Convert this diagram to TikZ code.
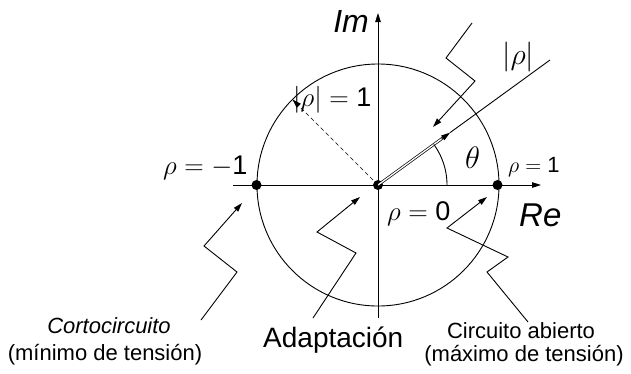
\documentclass[tikz,border=0pt]{standalone}
\usepackage{fix-cm}
\usepackage[no-math]{fontspec}
\newfontfamily\arial{Liberation Sans}
\usetikzlibrary{arrows.meta,calc}
\newcommand\fsz[1]{\fontsize{#1}{#1}\selectfont}
\tikzset{
  ln/.style={line width=0.9pt},
  arr/.style={ln,-{Triangle[length=9pt,width=5.5pt]}},
  dot/.style={circle,fill=black,inner sep=0pt,minimum size=10pt},
  lbl/.style={inner sep=0pt},
}
\begin{document}
\begin{tikzpicture}[x=1pt,y=-1pt]
\useasboundingbox (0,0) rectangle (631,373);
% circle and axes
\coordinate (Oc) at (378,185);
\draw[ln] (Oc) circle[radius=121pt];
\coordinate (xl) at (233,185);
\coordinate (xr) at (541,185);
\coordinate (yb) at (378,318);
\coordinate (yt) at (378,13);
\draw[arr] (xl) -- (xr);
\draw[arr] (yb) -- (yt);
% points
\node[dot] (P) at (256.5,185) {};
\node[dot] (O) at (378,185) {};
\node[dot] (Q) at (497.5,185) {};
% reflection coefficient vector
\coordinate (E) at (550,60);
\coordinate (T) at ($(O.center)!0.419!(E)$);
\coordinate (Ta) at ($(O.center)!0.37!(E)$);
\draw[line width=0.7pt,double,double distance=1.3pt,shorten >=6pt] (O.center) -- (T);
\draw[arr] (Ta) -- (T);
\draw[ln] (T) -- (E);
% angle arc
\draw[ln] plot[domain=0:36,samples=30] ({378+69*cos(\x)},{185-69*sin(\x)});
% dashed radius
\coordinate (D) at (292.4,99.4);
\draw[arr,line width=0.7pt,dash pattern=on 4pt off 3pt] (O.center) -- (D);
% zigzag pointers
\coordinate (a1) at (472,23);
\coordinate (a2) at (446,58);
\coordinate (a3) at (475,81);
\coordinate (a4) at (433,127);
\draw[arr] (a1) -- (a2) -- (a3) -- (a4);
\coordinate (c1) at (201,320);
\coordinate (c2) at (237,272);
\coordinate (c3) at (204,246);
\coordinate (c4) at (242,203);
\draw[arr] (c1) -- (c2) -- (c3) -- (c4);
\coordinate (d1) at (313,318);
\coordinate (d2) at (356,253);
\coordinate (d3) at (317,232);
\coordinate (d4) at (360,197);
\draw[arr] (d1) -- (d2) -- (d3) -- (d4);
\coordinate (e1) at (528,322);
\coordinate (e2) at (487,272);
\coordinate (e3) at (508,257);
\coordinate (e4) at (447,228);
\coordinate (e5) at (487,197);
\draw[arr] (e1) -- (e2) -- (e3) -- (e4) -- (e5);
% labels
\node[lbl,anchor=base east,font=\arial\itshape\fsz{32}] (im) at (369,32) {Im};
\node[lbl,anchor=base west,font=\arial\itshape\fsz{33}] (re) at (519,226) {Re};
\node[lbl,anchor=base west,font=\fsz{27}] (lm1) at (163,174) {$\rho=-\hbox{\arial 1}$};
\node[lbl,anchor=base west,font=\fsz{27}] (l0) at (387,220) {$\rho=\hbox{\arial 0}$};
\node[lbl,anchor=base west,font=\fsz{22}] (l1) at (508,172) {$\rho=\hbox{\arial 1}$};
\node[lbl,anchor=base west,font=\fsz{31}] (th) at (465,168) {$\theta$};
\node[lbl,anchor=base west,font=\fsz{27}] (r1) at (293,106) {$|\rho|=\hbox{\arial 1}$};
\node[lbl,anchor=base west,font=\fsz{30}] (rr) at (502,64) {$|\rho|$};
\node[lbl,anchor=base,font=\arial\itshape\fsz{22}] (cc1) at (109,333) {Cortocircuito};
\node[lbl,anchor=base,font=\arial\fsz{22}] (cc2) at (105,360) {(mínimo de tensión)};
\node[lbl,anchor=base west,font=\arial\fsz{28}] (ad) at (263,347) {Adaptación};
\node[lbl,anchor=base,font=\arial\fsz{22}] (ca1) at (521,338) {Circuito abierto};
\node[lbl,anchor=base,font=\arial\fsz{22}] (ca2) at (524,361) {(máximo de tensión)};
\end{tikzpicture}
\end{document}
